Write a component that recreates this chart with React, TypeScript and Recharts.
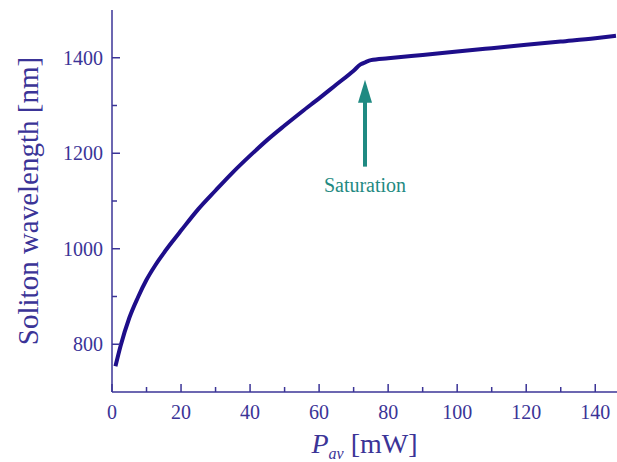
import React from "react";
import {
  LineChart,
  Line,
  XAxis,
  YAxis,
  ReferenceLine,
} from "recharts";

// average power [mW] vs soliton wavelength [nm]
const power = [1, 2.5, 5, 7.5, 10, 12.5, 15, 17.5, 20, 25, 30, 35, 40, 45, 50, 55, 60, 65, 70, 72, 73.5, 75, 80, 90, 100, 110, 120, 130, 140, 146];
const wavelength = [754, 797, 855, 898, 935, 965, 991, 1015, 1038, 1083, 1122, 1160, 1195, 1228, 1258, 1287, 1315, 1344, 1373, 1386, 1391, 1395, 1399, 1406, 1413, 1420, 1427, 1434, 1441, 1446];

const xTicks = [0, 10, 20, 30, 40, 50, 60, 70, 80, 90, 100, 110, 120, 130, 140];
const yTicks = [800, 900, 1000, 1100, 1200, 1300, 1400];

// "Saturation" arrow: x position, tail and tip wavelength
const satX = 73.3;
const satTail = 1172;
const satTip = 1354;

const data = power.map((p, i) => ({ p, w: wavelength[i] }));

const FONT = "'Liberation Serif', 'Times New Roman', 'DejaVu Serif', serif";
const AXIS = "#3b3497";
const LINE = "#1e0e8a";
const TEAL = "#1f8a82";

const txt = { fontFamily: FONT };

const BottomTick = (props: any) => {
  const { x, y, payload } = props;
  const major = payload.value % 20 === 0;
  return (
    <g>
      <line x1={x} x2={x} y1={y} y2={y - (major ? 8 : 5)} stroke={AXIS} strokeWidth={1.5} />
      {major && (
        <text x={x} y={y + 27} textAnchor="middle" fill={AXIS} fontSize={20} style={txt}>
          {payload.value}
        </text>
      )}
    </g>
  );
};

const TopTick = (props: any) => {
  const { x, y, payload } = props;
  const major = payload.value % 20 === 0;
  return <line x1={x} x2={x} y1={y} y2={y + (major ? 8 : 5)} stroke={AXIS} strokeWidth={1.5} />;
};

const LeftTick = (props: any) => {
  const { x, y, payload } = props;
  const major = payload.value % 200 === 0;
  return (
    <g>
      <line x1={x} x2={x + (major ? 8 : 5)} y1={y} y2={y} stroke={AXIS} strokeWidth={1.5} />
      {major && (
        <text x={x - 9} y={y + 7} textAnchor="end" fill={AXIS} fontSize={20} style={txt}>
          {payload.value}
        </text>
      )}
    </g>
  );
};

const ArrowShape = (props: any) => {
  const { x1, y1, y2 } = props;
  const top = Math.min(y1, y2);
  const bottom = Math.max(y1, y2);
  return (
    <g>
      <line x1={x1} x2={x1} y1={top + 20} y2={bottom} stroke={TEAL} strokeWidth={4} />
      <polygon points={`${x1},${top} ${x1 - 7},${top + 23} ${x1 + 7},${top + 23}`} fill={TEAL} />
      <text x={x1} y={bottom + 25} textAnchor="middle" fill={TEAL} fontSize={20} style={txt}>
        Saturation
      </text>
    </g>
  );
};

export default function App() {
  return (
    <div style={{ position: "absolute", left: 0, top: 0, background: "#fff" }}>
      <LineChart width={617} height={462} data={data} margin={{ top: 10, right: 0, bottom: 0, left: 0 }}>
        <XAxis
          dataKey="p"
          type="number"
          domain={[0, 146.3]}
          allowDataOverflow
          ticks={xTicks}
          interval={0}
          height={70}
          tickSize={0}
          tickMargin={0}
          tickLine={false}
          axisLine={{ stroke: AXIS, strokeWidth: 1.5 }}
          tick={<BottomTick />}
          label={{
            content: (p: any) => {
              const vb = p.viewBox;
              const cx = vb.x + vb.width / 2;
              return (
                <text x={cx} y={453} textAnchor="middle" fill={AXIS} fontSize={28} style={txt}>
                  <tspan fontStyle="italic">P</tspan>
                  <tspan fontStyle="italic" fontSize={16} dy={6}>av</tspan>
                  <tspan dy={-6}> [mW]</tspan>
                </text>
              );
            },
          }}
        />
        <XAxis
          xAxisId="top"
          orientation="top"
          dataKey="p"
          type="number"
          domain={[0, 146.3]}
          allowDataOverflow
          ticks={xTicks}
          interval={0}
          height={0}
          tickSize={0}
          tickMargin={0}
          tickLine={false}
          axisLine={{ stroke: AXIS, strokeWidth: 1.5 }}
          tick={<TopTick />}
        />
        <YAxis
          type="number"
          domain={[700, 1500]}
          allowDataOverflow
          ticks={yTicks}
          interval={0}
          width={112}
          tickSize={0}
          tickMargin={0}
          tickLine={false}
          axisLine={{ stroke: AXIS, strokeWidth: 1.5 }}
          tick={<LeftTick />}
          label={{
            content: (p: any) => {
              const vb = p.viewBox;
              const cx = 28;
              const cy = vb.y + vb.height / 2;
              return (
                <text
                  x={cx}
                  y={cy}
                  transform={`rotate(-90 ${cx} ${cy})`}
                  textAnchor="middle"
                  dominantBaseline="central"
                  fill={AXIS}
                  fontSize={29}
                  style={txt}
                >
                  Soliton wavelength [nm]
                </text>
              );
            },
          }}
        />
        <Line
          dataKey="w"
          type="monotone"
          stroke={LINE}
          strokeWidth={4}
          dot={false}
          isAnimationActive={false}
        />
        <ReferenceLine
          segment={[
            { x: satX, y: satTail },
            { x: satX, y: satTip },
          ]}
          shape={<ArrowShape />}
        />
      </LineChart>
    </div>
  );
}
